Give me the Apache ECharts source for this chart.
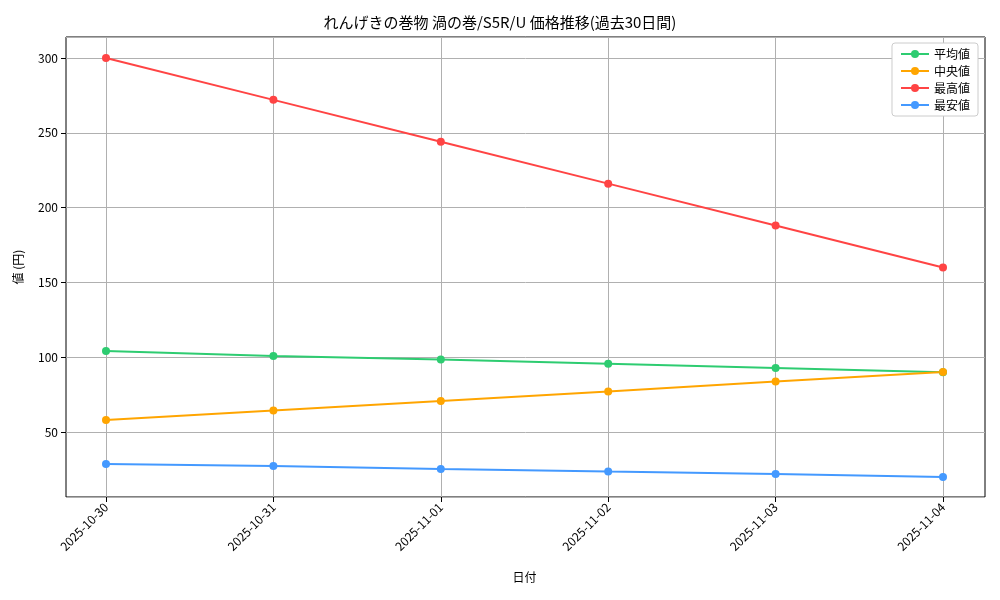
<!DOCTYPE html>
<html lang="ja">
<head>
<meta charset="UTF-8">
<title>chart</title>
<style>html,body{margin:0;padding:0;}</style>
</head>
<body>
<div id="show" style="width:1000px;height:600px;"></div>
<script src="https://cdn.jsdelivr.net/npm/echarts@6/dist/echarts.min.js"></script>
<script>
    var dates = ['2025-10-30', '2025-10-31', '2025-11-01', '2025-11-02', '2025-11-03', '2025-11-04'];
    var avgVals = [104.1, 100.9, 98.5, 95.6, 92.8, 90.0];
    var medVals = [58.0, 64.4, 70.7, 77.1, 83.8, 90.1];
    var maxVals = [300, 272, 244, 216, 188, 160];
    var minVals = [28.6, 27.3, 25.3, 23.6, 22.0, 20.0];

    var font = 'Noto Sans CJK JP';
    var yMin = 6.6, yMax = 314;
    var chart = echarts.init(document.getElementById('show'));

    function line(name, data, color) {
        return {
            name: name, type: 'line', data: data, xAxisIndex: 1, yAxisIndex: 1,
            symbol: 'circle', symbolSize: 8,
            lineStyle: { color: color, width: 2 },
            itemStyle: { color: color }
        };
    }

    chart.setOption({
        animation: false,
        textStyle: { fontFamily: font },
        title: {
            text: 'れんげきの巻物 渦の巻/S5R/U 価格推移(過去30日間)',
            left: 'center', top: 10,
            textStyle: { fontSize: 15, fontWeight: 'normal', color: '#000', fontFamily: font }
        },
        legend: {
            right: 22, top: 43, orient: 'vertical', itemGap: 5,
            backgroundColor: '#fff', borderColor: '#ccc', borderWidth: 1, borderRadius: 3,
            padding: [5, 8],
            textStyle: { fontSize: 12, color: '#000' },
            itemWidth: 28, itemHeight: 10
        },
        grid: [
            { left: 66, right: 15, top: 37, bottom: 103, show: true, borderColor: '#000', borderWidth: 1 },
            { left: 106, right: 57, top: 37, bottom: 103 }
        ],
        xAxis: [
            { gridIndex: 0, type: 'value', min: 0, max: 1, show: false },
            {
                gridIndex: 1, type: 'category', data: dates, boundaryGap: false,
                name: '日付', nameLocation: 'middle', nameGap: 74,
                nameTextStyle: { color: '#000', fontSize: 12 },
                axisLine: { show: false },
                axisTick: { show: true, length: 5, lineStyle: { color: '#000' } },
                axisLabel: { rotate: 45, color: '#000', fontSize: 12, margin: 8 },
                splitLine: { show: true, lineStyle: { color: '#b0b0b0' } }
            }
        ],
        yAxis: [
            {
                gridIndex: 0, type: 'value', min: yMin, max: yMax,
                name: '値 (円)', nameLocation: 'middle', nameGap: 42, nameRotate: 90,
                nameTextStyle: { color: '#000', fontSize: 12 },
                axisLine: { show: false },
                axisTick: { show: true, length: 5, lineStyle: { color: '#000' } },
                axisLabel: { color: '#000', fontSize: 12, showMinLabel: false, showMaxLabel: false },
                splitLine: { show: true, lineStyle: { color: '#b0b0b0' } }
            },
            { gridIndex: 1, type: 'value', min: yMin, max: yMax, show: false }
        ],
        series: [
            line('平均値', avgVals, '#2ecc71'),
            line('中央値', medVals, '#ffa500'),
            line('最高値', maxVals, '#ff4444'),
            line('最安値', minVals, '#4499ff')
        ]
    });
</script>
</body>
</html>
